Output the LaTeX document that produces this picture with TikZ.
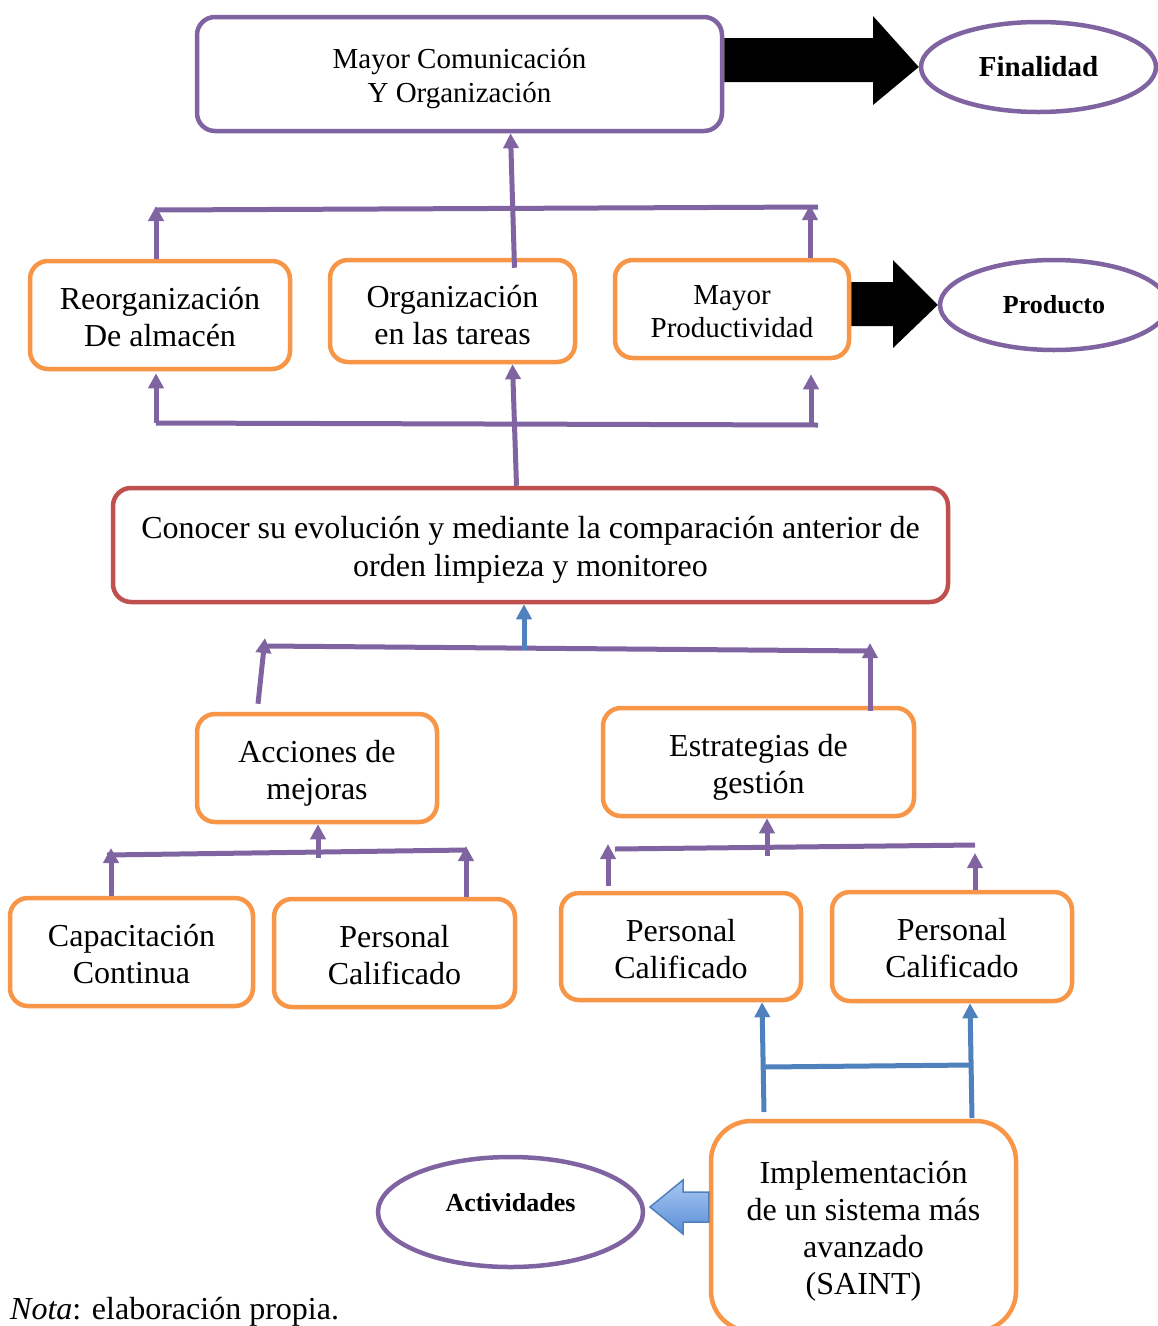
\documentclass[tikz,border=0pt]{standalone}
\usepackage{fontspec}
\setmainfont{Liberation Serif}
\usetikzlibrary{arrows.meta,shapes.geometric,calc}
\definecolor{cpurple}{HTML}{8064A2}
\definecolor{corange}{HTML}{F79646}
\definecolor{cred}{HTML}{C0504D}
\definecolor{cblue}{HTML}{4F81BD}
\definecolor{cbluelight}{HTML}{A9C8F2}
\definecolor{cbluedark}{HTML}{5A8ED6}
\newcommand\mytxt[2]{\raisebox{#1}[\height][\depth]{\begin{tabular}{@{}c@{}}#2\end{tabular}}}
\tikzset{
  boxbase/.style={rectangle, rounded corners=18pt, line width=4.5pt, fill=white, inner sep=0pt, font=\fontsize{32}{37}\selectfont},
  obox/.style={boxbase, draw=corange},
  pbox/.style={boxbase, draw=cpurple},
  rbox/.style={boxbase, draw=cred},
  goal/.style={ellipse, draw=cpurple, line width=4.5pt, fill=white, inner sep=0pt, font=\bfseries},
  pline/.style={draw=cpurple, line width=5pt},
  parrow/.style={draw=cpurple, line width=5pt, -{Triangle[width=15pt,length=15pt]}},
  bline/.style={draw=cblue, line width=5pt},
  barrow/.style={draw=cblue, line width=5pt, -{Triangle[width=15pt,length=15pt]}},
  blockarrow/.style={fill=black, draw=none},
}
\begin{document}
\begin{tikzpicture}[x=1pt,y=-1pt]
\clip (0,0) rectangle (1158,1326);
\fill[white] (0,0) rectangle (1158,1326);

% nodes
\node[pbox, minimum width=525pt, minimum height=114pt, font=\fontsize{29}{34}\selectfont] (top) at (459.5,74) {\mytxt{-5pt}{Mayor Comunicación\\Y Organización}};
\node[goal, minimum width=235pt, minimum height=90pt, font=\fontsize{29}{34}\selectfont\bfseries] (fin) at (1038.5,67) {Finalidad};

\node[obox, minimum width=260pt, minimum height=108pt] (reorg) at (160,315) {\mytxt{-6pt}{Reorganización\\De almacén}};
\node[obox, minimum width=245pt, minimum height=102pt] (orgt) at (452.5,311) {\mytxt{-8pt}{Organización\\en las tareas}};
\node[obox, minimum width=234pt, minimum height=98pt, font=\fontsize{29}{33}\selectfont] (mayor) at (732,309) {\mytxt{-5.5pt}{Mayor\\Productividad}};
\node[goal, minimum width=228pt, minimum height=90pt, font=\fontsize{26}{30}\selectfont\bfseries] (prod) at (1054,305) {Producto};

\node[rbox, minimum width=835pt, minimum height=114pt, font=\fontsize{32}{38}\selectfont] (conocer) at (530.5,545) {\mytxt{-5pt}{Conocer su evolución y mediante la comparación anterior de\\orden limpieza y monitoreo}};

\node[obox, minimum width=240pt, minimum height=108pt] (acc) at (317,768) {\mytxt{-6pt}{Acciones de\\mejoras}};
\node[obox, minimum width=311pt, minimum height=108pt] (est) at (758.5,762) {\mytxt{-6pt}{Estrategias de\\gestión}};

\node[obox, minimum width=243pt, minimum height=108pt] (cap) at (131.5,952) {\mytxt{-5.5pt}{Capacitación\\Continua}};
\node[obox, minimum width=241pt, minimum height=108pt] (pc1) at (394.5,953) {\mytxt{-6pt}{Personal\\Calificado}};
\node[obox, minimum width=240pt, minimum height=107pt] (pc2) at (681,946.5) {\mytxt{-6.5pt}{Personal\\Calificado}};
\node[obox, minimum width=240pt, minimum height=109pt] (pc3) at (952,946.5) {\mytxt{-5pt}{Personal\\Calificado}};

\node[obox, minimum width=305pt, minimum height=210pt, rounded corners=40pt] (impl) at (863.5,1226) {\mytxt{-5.5pt}{Implementación\\de un sistema más\\avanzado\\(SAINT)}};
\node[goal, minimum width=265pt, minimum height=110pt, font=\fontsize{26}{30}\selectfont\bfseries] (act) at (510.5,1212) {\raisebox{9pt}[\height][\depth]{Actividades}};

\node[anchor=base west, inner sep=0pt, font=\fontsize{32}{36}\selectfont] (nota) at (10,1319) {\textit{Nota}: elaboración propia.};

% black block arrows
\fill[blockarrow] (top.east |- 0,38) -- (873,38) -- (873,16) -- (fin.west) -- (873,105) -- (873,82) -- (top.east |- 0,82) -- cycle;
\fill[blockarrow] (mayor.east |- 0,282) -- (893,282) -- (893,260) -- (prod.west) -- (893,348) -- (893,326) -- (mayor.east |- 0,326) -- cycle;

% blue block arrow
\shade[top color=cbluelight, bottom color=cbluedark, draw=cblue, line width=1.5pt]
  (impl.west |- 0,1192) -- (683,1192) -- (683,1180) -- (650,1207) -- (683,1234) -- (683,1222) -- (impl.west |- 0,1222) -- cycle;

% top bus
\coordinate (tbL) at (156,210);
\coordinate (tbR) at (818,207);
\coordinate (tbM) at (810,208);
\draw[pline] (tbL) -- (tbR);
\draw[parrow] (reorg.north -| tbL) -- ($(tbL)+(0,-4)$);
\draw[parrow] (mayor.north -| tbM) -- ($(tbM)+(0,-3)$);
\draw[parrow] ($(orgt.north)+(62,10)$) -- ($(top.south)+(51,0)$);

% lower bus
\coordinate (lbL) at (156,423);
\coordinate (lbR) at (818,425);
\coordinate (lbM) at (811,425);
\draw[pline] (lbL) -- (lbR);
\draw[parrow] (lbL) -- ($(reorg.south -| lbL)+(0,2)$);
\draw[parrow] (lbM) -- ($(mayor.south -| lbM)+(0,14)$);
\draw[parrow] ($(conocer.north)+(-14,0)$) -- ($(orgt.south)+(60,0)$);

% middle bus
\coordinate (mb) at (524,650);
\coordinate (mbL) at (265,646);
\coordinate (mbR) at (870,651);
\draw[pline] (mbL) -- (mbR);
\draw[barrow] (mb) -- (conocer.south -| mb);
\draw[parrow] ($(acc.north)+(-59,-8)$) -- ($(mbL)+(0,-8)$);
\draw[parrow] ($(est.north)+(111.5,5)$) -- ($(mbR)+(0,-8)$);

% left lower bus
\coordinate (llL) at (107,855);
\coordinate (llR) at (466,850);
\draw[pline] (llL) -- (llR);
\draw[parrow] ($(cap.north)+(-20.5,0)$) -- (111,848);
\draw[parrow] ($(pc1.north)+(71.5,0)$) -- (466,846);
\draw[parrow] (318,858) -- ($(acc.south)+(1,0)$);

% right lower bus
\coordinate (rlL) at (615,849);
\coordinate (rlR) at (975,845);
\draw[pline] (rlL) -- (rlR);
\draw[parrow] ($(pc2.north)+(-73,-5)$) -- (608,844);
\draw[parrow] ($(pc3.north)+(23,0)$) -- (975,853);
\draw[parrow] (767,856) -- ($(est.south)+(8.5,0)$);

% blue lower connectors
\coordinate (bl1) at (764,1112);
\coordinate (bl2) at (972,1118);
\draw[bline] (764,1067) -- (972,1065);
\draw[barrow] (bl1) -- ($(pc2.south)+(81,0)$);
\draw[barrow] (bl2) -- ($(pc3.south)+(18,0)$);
\end{tikzpicture}
\end{document}
